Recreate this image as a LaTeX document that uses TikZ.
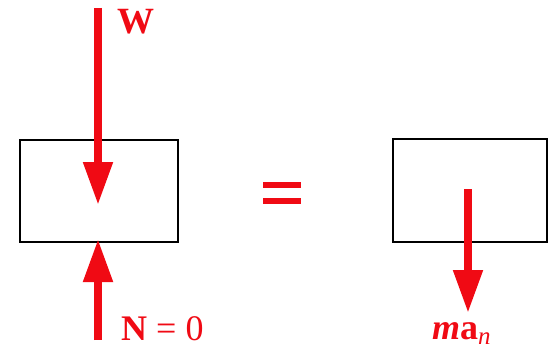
\documentclass[tikz,border=0pt]{standalone}
\usepackage{fontspec}
\setmainfont{Liberation Serif}
\usetikzlibrary{arrows.meta}
\definecolor{fred}{RGB}{240,10,20}
\tikzset{
  force/.style={fred, line width=8pt, -{Triangle[length=43pt,width=28pt]}},
  body/.style={draw=black, line width=2.2pt},
  lbl/.style={text=fred, inner sep=0pt, font=\fontsize{36}{36}\selectfont},
  eqbar/.style={fred, line width=6pt}
}
\begin{document}
\begin{tikzpicture}[x=1pt,y=1pt]
\useasboundingbox (0,0) rectangle (551,349);
% left free-body diagram
\draw[body] (20,107) rectangle (178,209);
\coordinate (wtail) at (98,341);
\coordinate (wtip) at (98,144);
\draw[force] (wtail) -- (wtip);
\coordinate (ntail) at (98,9);
\coordinate (ntip) at (98,110);
\draw[force] (ntail) -- (ntip);
\node[lbl, anchor=base west, font=\fontsize{37}{37}\selectfont] (W) at (117,316) {\textbf{W}};
\node[lbl, anchor=base west] (N) at (121,9) {\textbf{N} = 0};
% equals sign
\coordinate (e1a) at (263,164);
\coordinate (e1b) at (301,164);
\coordinate (e2a) at (263,148);
\coordinate (e2b) at (301,148);
\draw[eqbar] (e1a) -- (e1b);
\draw[eqbar] (e2a) -- (e2b);
% right kinetic diagram
\draw[body] (393,107) rectangle (547,210);
\coordinate (mtail) at (468,160);
\coordinate (mtip) at (468,36);
\draw[force] (mtail) -- (mtip);
\node[lbl, anchor=base west] (ma) at (432,10) {\textbf{\textit{m}a}\raisebox{-0.16em}{\fontsize{25}{25}\selectfont\textit{n}}};
\end{tikzpicture}
\end{document}
